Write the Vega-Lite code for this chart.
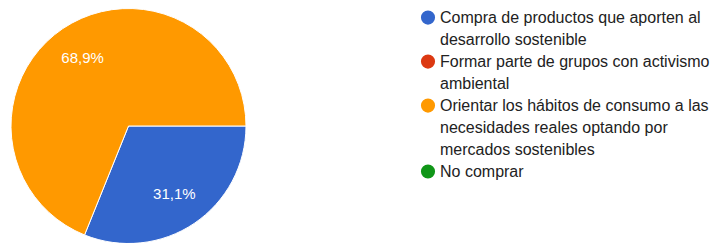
{
  "$schema": "https://vega.github.io/schema/vega-lite/v6.json",
  "padding": 0,
  "background": "white",
  "config": {
    "view": {"stroke": null},
    "locale": {"number": {"decimal": ",", "thousands": ".", "grouping": [3], "currency": ["", " €"]}},
    "font": "Liberation Sans"
  },
  "datasets": {
    "slices": [
      {"item": "Compra de productos que aporten al desarrollo sostenible", "share": 0.311},
      {"item": "Formar parte de grupos con activismo ambiental", "share": 0},
      {"item": "Orientar los hábitos de consumo a las necesidades reales optando por mercados sostenibles", "share": 0.689},
      {"item": "No comprar", "share": 0}
    ],
    "lines": [
      {"item": "Compra de productos que aporten al desarrollo sostenible", "line": 0, "first": true, "text": "Compra de productos que aporten al"},
      {"item": "Compra de productos que aporten al desarrollo sostenible", "line": 1, "first": false, "text": "desarrollo sostenible"},
      {"item": "Formar parte de grupos con activismo ambiental", "line": 2, "first": true, "text": "Formar parte de grupos con activismo"},
      {"item": "Formar parte de grupos con activismo ambiental", "line": 3, "first": false, "text": "ambiental"},
      {"item": "Orientar los hábitos de consumo a las necesidades reales optando por mercados sostenibles", "line": 4, "first": true, "text": "Orientar los hábitos de consumo a las"},
      {"item": "Orientar los hábitos de consumo a las necesidades reales optando por mercados sostenibles", "line": 5, "first": false, "text": "necesidades reales optando por"},
      {"item": "Orientar los hábitos de consumo a las necesidades reales optando por mercados sostenibles", "line": 6, "first": false, "text": "mercados sostenibles"},
      {"item": "No comprar", "line": 7, "first": true, "text": "No comprar"}
    ]
  },
  "spacing": 161,
  "hconcat": [
    {
      "width": 257,
      "height": 252,
      "data": {"name": "slices"},
      "transform": [{"filter": "datum.share > 0"}],
      "encoding": {
        "theta": {"field": "share", "type": "quantitative", "stack": true, "scale": {"range": [1.5708, 7.85398]}},
        "color": {
          "field": "item", "type": "nominal", "legend": null,
          "scale": {
            "domain": ["Compra de productos que aporten al desarrollo sostenible", "Formar parte de grupos con activismo ambiental", "Orientar los hábitos de consumo a las necesidades reales optando por mercados sostenibles", "No comprar"],
            "range": ["#3366CC", "#DC3912", "#FF9900", "#109618"]
          }
        },
        "order": {"field": "item", "sort": "ascending"}
      },
      "layer": [
        {"mark": {"type": "arc", "outerRadius": 117.5, "stroke": "white", "strokeWidth": 1}},
        {
          "mark": {"type": "text", "radius": 82, "fill": "white", "fontSize": 15},
          "encoding": {"text": {"field": "share", "type": "quantitative", "format": ".1%"}, "color": {"value": "white"}}
        }
      ]
    },
    {
      "width": 20,
      "height": 243,
      "data": {"name": "lines"},
      "encoding": {
        "y": {"field": "line", "type": "quantitative", "axis": null, "scale": {"domain": [-0.8, 10.25], "reverse": true, "nice": false, "zero": false}}
      },
      "layer": [
        {
          "transform": [{"filter": "datum.first"}],
          "mark": {"type": "point", "filled": true, "shape": "circle", "size": 200, "opacity": 1},
          "encoding": {
            "color": {
              "field": "item", "type": "nominal", "legend": null,
              "scale": {
                "domain": ["Compra de productos que aporten al desarrollo sostenible", "Formar parte de grupos con activismo ambiental", "Orientar los hábitos de consumo a las necesidades reales optando por mercados sostenibles", "No comprar"],
                "range": ["#3366CC", "#DC3912", "#FF9900", "#109618"]
              }
            }
          }
        },
        {
          "mark": {"type": "text", "align": "left", "baseline": "middle", "dx": 12, "fontSize": 16, "color": "#222222"},
          "encoding": {"text": {"field": "text", "type": "nominal"}}
        }
      ]
    }
  ]
}
